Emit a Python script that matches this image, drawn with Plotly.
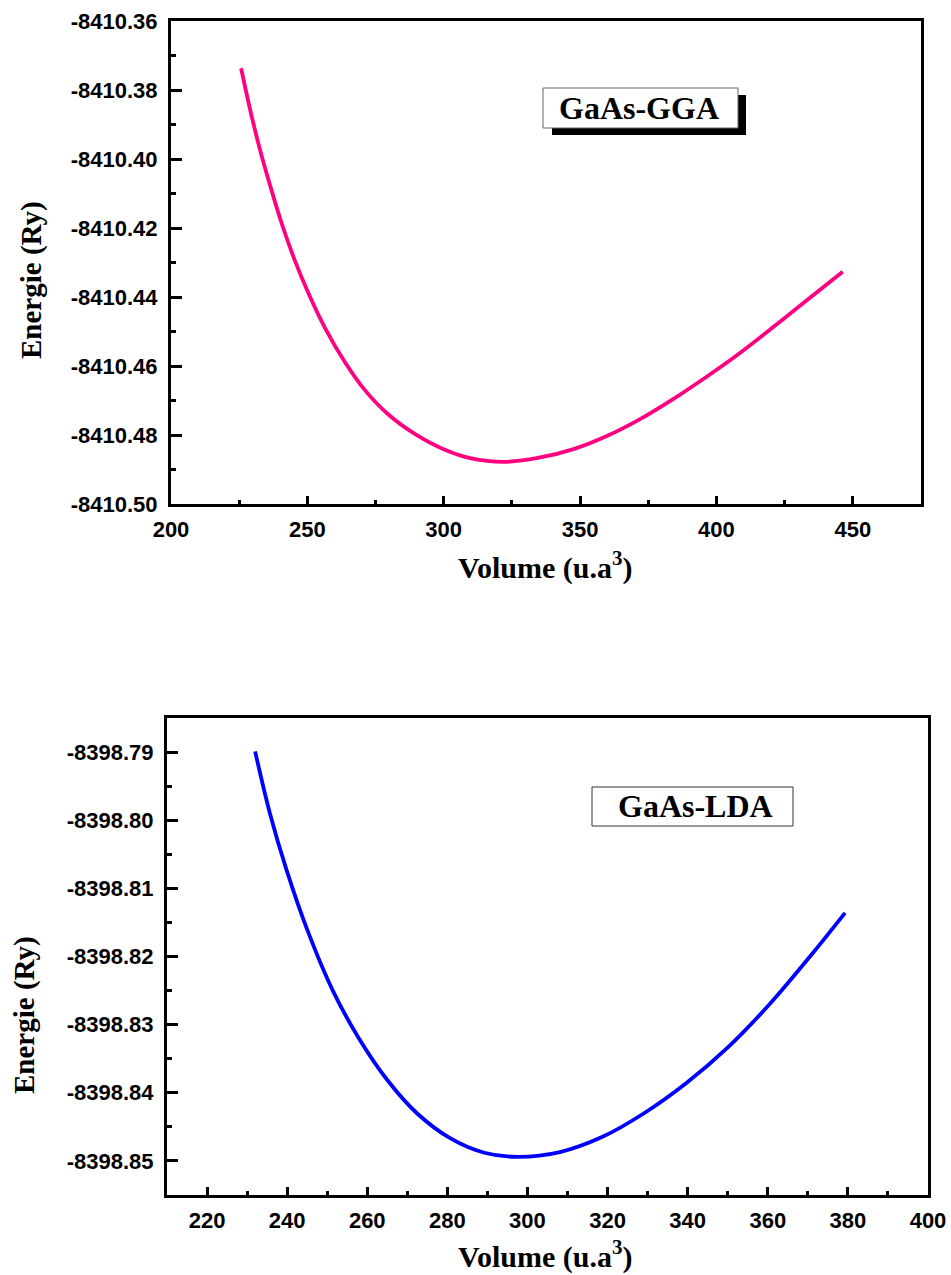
import plotly.graph_objects as go

# ---- data ----
gga_volume = [225.7, 229.6, 233.3, 236.95, 240.6, 245.5, 250.4, 256.5, 263.8, 271.1,
              279.6, 289.4, 300.4, 310.1, 321.9, 335.4, 347.6, 359.8, 372.0, 384.1,
              396.4, 408.5, 420.7, 432.9, 446.3]
gga_energy = [-8410.3737, -8410.3877, -8410.3993, -8410.4093, -8410.4187, -8410.4296,
              -8410.4389, -8410.4490, -8410.4589, -8410.4670, -8410.4740, -8410.4797,
              -8410.4843, -8410.4868, -8410.4878, -8410.4865, -8410.4841, -8410.4803,
              -8410.4754, -8410.4696, -8410.4631, -8410.4563, -8410.4488, -8410.4411,
              -8410.4327]

lda_volume = [232.0, 235.7, 239.9, 245.1, 251.4, 257.7, 265.1, 272.4, 280.8, 289.2,
              297.6, 308.1, 318.6, 329.1, 339.6, 350.1, 360.6, 371.1, 379.3]
lda_energy = [-8398.7899, -8398.7990, -8398.8074, -8398.8162, -8398.8250, -8398.8318,
              -8398.8382, -8398.8430, -8398.8467, -8398.8488, -8398.8494, -8398.8487,
              -8398.8465, -8398.8430, -8398.8386, -8398.8333, -8398.8269, -8398.8196,
              -8398.8136]

gga_xticks = [200, 250, 300, 350, 400, 450]
gga_xminor = [225, 275, 325, 375, 425]
gga_yticks = [-8410.36, -8410.38, -8410.40, -8410.42, -8410.44, -8410.46, -8410.48, -8410.50]
gga_yminor = [-8410.37, -8410.39, -8410.41, -8410.43, -8410.45, -8410.47, -8410.49]

lda_xticks = [220, 240, 260, 280, 300, 320, 340, 360, 380, 400]
lda_xminor = [230, 250, 270, 290, 310, 330, 350, 370, 390]
lda_yticks = [-8398.79, -8398.80, -8398.81, -8398.82, -8398.83, -8398.84, -8398.85]
lda_yminor = [-8398.785, -8398.795, -8398.805, -8398.815, -8398.825, -8398.835, -8398.845]

W, H = 951, 1275
TICKFONT = dict(family="Liberation Sans, Arial", size=22, color="black", weight="bold")
SERIF = "Liberation Serif, Times New Roman"

fig = go.Figure()
fig.add_trace(go.Scatter(x=gga_volume, y=gga_energy, mode="lines", line_shape="spline",
                         line=dict(color="#FF0080", width=3.8, smoothing=1.0), xaxis="x", yaxis="y",
                         showlegend=False))
fig.add_trace(go.Scatter(x=lda_volume, y=lda_energy, mode="lines", line_shape="spline",
                         line=dict(color="#0000FF", width=3.8, smoothing=1.0), xaxis="x2", yaxis="y2",
                         showlegend=False))

def px_x(p):
    return p / W

def px_y(p):
    return 1 - p / H

def axis(domain, rng, tickvals, minorvals, fmt, anchor, ticklen, standoff):
    return dict(domain=domain, range=rng, anchor=anchor, automargin=False,
                tickmode="array", tickvals=tickvals,
                ticktext=[fmt % v for v in tickvals],
                ticks="inside", ticklen=ticklen, tickwidth=3, tickcolor="black",
                minor=dict(tickmode="array", tickvals=minorvals, ticks="inside",
                           ticklen=max(ticklen // 2, 4), tickwidth=3, tickcolor="black"),
                showline=True, linewidth=3, linecolor="black", mirror=True,
                showgrid=False, zeroline=False, tickfont=TICKFONT,
                ticklabelstandoff=standoff)

fig.update_layout(
    width=W, height=H, margin=dict(l=0, r=0, t=0, b=0, autoexpand=False),
    paper_bgcolor="white", plot_bgcolor="white",
    xaxis=axis([px_x(171), px_x(921)], [200, 475], gga_xticks, gga_xminor, "%d", "y", 8, 4),
    yaxis=axis([px_y(504), px_y(21)], [-8410.5000001, -8410.3599999], gga_yticks, gga_yminor, "%.2f", "x", 11, 6),
    xaxis2=axis([px_x(167), px_x(928)], [210, 400.0001], lda_xticks, lda_xminor, "%d", "y2", 8, 4),
    yaxis2=axis([px_y(1195), px_y(718)], [-8398.855, -8398.785], lda_yticks, lda_yminor, "%.2f", "x2", 11, 6),
)

shapes = [
    # GGA label shadow and box
    dict(type="rect", xref="paper", yref="paper", x0=px_x(552), x1=px_x(746), y0=px_y(135), y1=px_y(95),
         fillcolor="black", line=dict(width=0)),
    dict(type="rect", xref="paper", yref="paper", x0=px_x(543), x1=px_x(738), y0=px_y(128), y1=px_y(88),
         fillcolor="white", line=dict(color="#666666", width=1)),
    # LDA label box
    dict(type="rect", xref="paper", yref="paper", x0=px_x(592), x1=px_x(793), y0=px_y(826), y1=px_y(787),
         fillcolor="white", line=dict(color="#333333", width=1)),
]
fig.update_layout(shapes=shapes)

ann = [
    dict(text="GaAs-GGA", x=px_x(639), y=px_y(108), font=dict(family=SERIF, size=32, color="black", weight="bold")),
    dict(text="GaAs-LDA", x=px_x(695), y=px_y(806), font=dict(family=SERIF, size=32, color="black", weight="bold")),
    dict(text="Volume (u.a<sup>3</sup>)", x=px_x(545), y=px_y(566), font=dict(family=SERIF, size=30, color="black", weight="bold")),
    dict(text="Volume (u.a<sup>3</sup>)", x=px_x(545), y=px_y(1254), font=dict(family=SERIF, size=30, color="black", weight="bold")),
    dict(text="Energie (Ry)", x=px_x(31), y=px_y(280), textangle=-90, font=dict(family=SERIF, size=29, color="black", weight="bold")),
    dict(text="Energie (Ry)", x=px_x(25), y=px_y(1015), textangle=-90, font=dict(family=SERIF, size=29, color="black", weight="bold")),
]
for a in ann:
    a.update(xref="paper", yref="paper", showarrow=False, xanchor="center", yanchor="middle")
fig.update_layout(annotations=ann)

fig.write_html("out.html")
